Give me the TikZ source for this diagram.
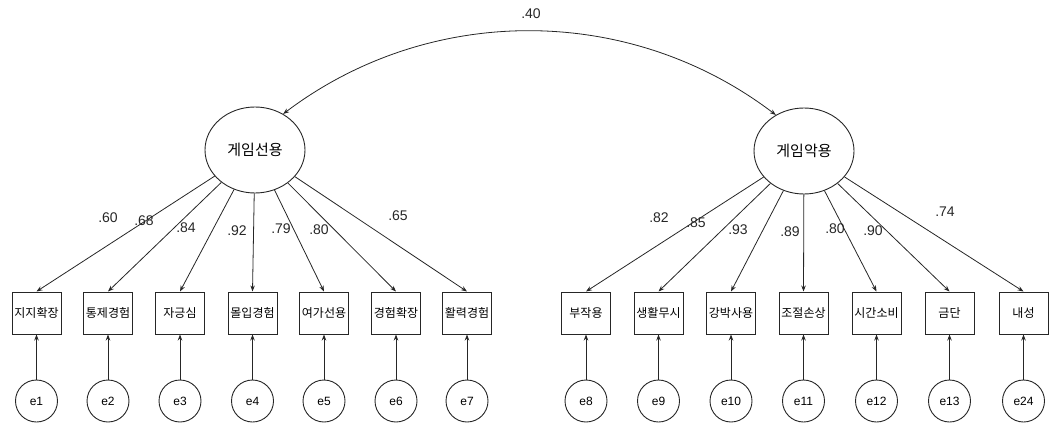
\documentclass[tikz,border=0pt]{standalone}
\usepackage{fontspec}
\setmainfont{Liberation Sans}
\newfontfamily\kr{Noto Sans CJK KR}
\usetikzlibrary{shapes.geometric,arrows.meta}

\tikzset{
  lat/.style={ellipse, draw=black!85, line width=0.9pt, minimum width=100pt, minimum height=86pt, inner sep=0pt, font=\kr\fontsize{15}{15}\selectfont},
  obs/.style={rectangle, draw=black!85, line width=1pt, minimum width=49pt, minimum height=42pt, inner sep=0pt, font=\kr\fontsize{12}{12}\selectfont},
  err/.style={circle, draw=black!85, line width=0.9pt, minimum size=42pt, inner sep=0pt, font=\fontsize{12}{12}\selectfont},
  coef/.style={inner sep=0pt, font=\fontsize{14}{14}\selectfont, text=black!85},
  path/.style={draw=black!85, line width=0.8pt, -{Stealth[length=6pt,width=4.5pt]}},
  cov/.style={draw=black!85, line width=0.8pt, {Stealth[length=6pt,width=4.5pt]}-{Stealth[length=6pt,width=4.5pt]}}
}

\begin{document}
\begin{tikzpicture}[x=1pt,y=-1pt]
\useasboundingbox (0,0) rectangle (1054,425);

% latent factors
\node[lat] (F1) at (255,150) {게임선용};
\node[lat] (F2) at (804,151) {게임악용};

% correlation between factors
\draw[cov] (F1.52) .. controls (430,3) and (630,4) .. (F2.128);
\node[coef] (r12) at (531,14) {.40};

% indicators of the first factor
\foreach \i/\t/\x/\lx/\ly/\c in {
  1/지지확장/36.5/108/218/.60,
  2/통제경험/108/144/221/.68,
  3/자긍심/180/186/228/.84,
  4/몰입경험/252.5/237/231/.92,
  5/여가선용/324/281/229/.79,
  6/경험확장/396/319/230/.80,
  7/활력경험/467/398/216/.65}{
  \node[obs] (A\i) at (\x,313) {\t};
  \node[err] (e\i) at (\x,401) {e\i};
  \draw[path] (F1) -- (A\i.north);
  \draw[path] (e\i) -- (A\i);
  \node[coef] (la\i) at (\lx,\ly) {\c};
}

% indicators of the second factor
\foreach \i/\t/\x/\lx/\ly/\c/\en in {
  1/부작용/586/659/218/.82/8,
  2/생활무시/658.5/696/223/.85/9,
  3/강박사용/731/738/230/.93/10,
  4/조절손상/803.5/790/232/.89/11,
  5/시간소비/876.5/835/229/.80/12,
  6/금단/949.5/873/231/.90/13,
  7/내성/1023.5/945/212/.74/24}{
  \node[obs] (B\i) at (\x,313) {\t};
  \node[err] (f\i) at (\x,401) {e\en};
  \draw[path] (F2) -- (B\i.north);
  \draw[path] (f\i) -- (B\i);
  \node[coef] (lb\i) at (\lx,\ly) {\c};
}
\end{tikzpicture}
\end{document}
